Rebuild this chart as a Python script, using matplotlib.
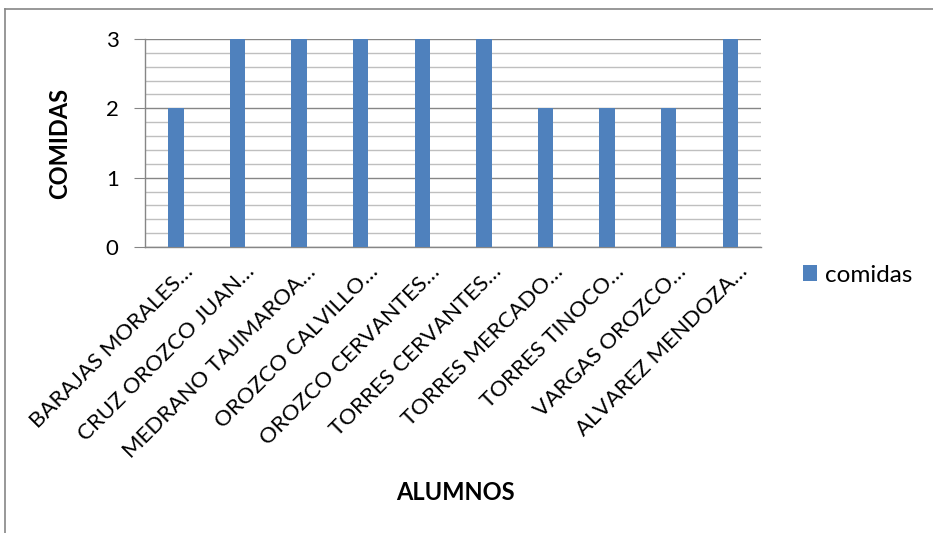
import matplotlib
matplotlib.use("Agg")
import matplotlib.pyplot as plt
from matplotlib.ticker import MultipleLocator
from matplotlib.lines import Line2D

alumnos = ["BARAJAS MORALES…", "CRUZ OROZCO JUAN…", "MEDRANO TAJIMAROA…",
           "OROZCO CALVILLO…", "OROZCO CERVANTES…", "TORRES CERVANTES…",
           "TORRES MERCADO…", "TORRES TINOCO…", "VARGAS OROZCO…",
           "ALVAREZ MENDOZA…"]
comidas = [2, 3, 3, 3, 3, 3, 2, 2, 2, 3]

plt.rcParams['font.family'] = ['Lato', 'DejaVu Sans']

W, H = 933, 533
fig = plt.figure(figsize=(W / 100, H / 100), dpi=100)
ax = fig.add_axes([145 / W, 1 - 247 / H, (761 - 145) / W, (247 - 39) / H])

x = list(range(len(alumnos)))
bars = ax.bar(x, comidas, width=0.25, color='#4F81BD', label='comidas', zorder=3)

ax.set_xlim(-0.5, len(alumnos) - 0.5)
ax.set_ylim(0, 3)
ax.yaxis.set_major_locator(MultipleLocator(1))
ax.yaxis.set_minor_locator(MultipleLocator(0.2))
ax.grid(axis='y', which='major', color='#868686', linewidth=1.0, zorder=0)
ax.grid(axis='y', which='minor', color='#BFBFBF', linewidth=1.0, zorder=0)
ax.tick_params(axis='y', which='major', length=8, color='#868686', labelsize=16, pad=11)
ax.tick_params(axis='y', which='minor', length=0)
ax.tick_params(axis='x', length=0, labelsize=16, pad=4)

ax.set_xticks(x)
ax.set_xticklabels(alumnos, rotation=45, ha='right', va='top', rotation_mode='anchor')
for lab in ax.get_xticklabels():
    lab.set_transform(lab.get_transform() + matplotlib.transforms.ScaledTranslation(0.07, -0.09, fig.dpi_scale_trans))

for s in ['top', 'right']:
    ax.spines[s].set_visible(False)
for s in ['left', 'bottom']:
    ax.spines[s].set_color('#868686')
    ax.spines[s].set_linewidth(1.0)

fig.text(60 / W, 1 - 143 / H, 'COMIDAS', rotation=90, ha='center', va='center',
         fontsize=17, fontweight='bold')
fig.text(455 / W, 1 - 492 / H, 'ALUMNOS', ha='center', va='center',
         fontsize=17, fontweight='bold')

fig.legend(handles=[bars], labels=['comidas'], loc='center left',
           bbox_to_anchor=(781 / W, 1 - 275 / H), frameon=False, fontsize=17.5,
           handlelength=0.6, handleheight=0.6, handletextpad=0.3)

fig.add_artist(Line2D([5 / W, 5 / W], [0, 1 - 9 / H], transform=fig.transFigure,
                      color='#868686', linewidth=1.2))
fig.add_artist(Line2D([5 / W, 1], [1 - 9 / H, 1 - 9 / H], transform=fig.transFigure,
                      color='#868686', linewidth=1.2))

fig.savefig('out.png', dpi=100, facecolor='white')
